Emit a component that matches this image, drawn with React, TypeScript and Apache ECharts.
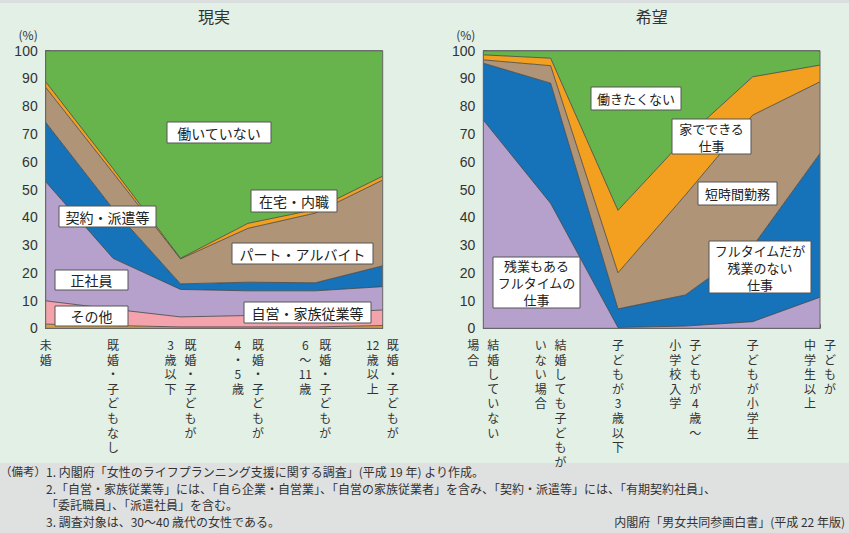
import React, { useEffect, useRef } from 'react';
import * as echarts from 'echarts';

// ---- 現実 (reality) ----
const realCategories = ['未婚', '既婚・子どもなし', '既婚・子どもが3歳以下', '既婚・子どもが4・5歳', '既婚・子どもが6〜11歳', '既婚・子どもが12歳以上'];
const realLabelColumns = [['未婚'], ['既婚・子どもなし'], ['既婚・子どもが', '3歳以下'], ['既婚・子どもが', '4・5歳'], ['既婚・子どもが', '6〜11歳'], ['既婚・子どもが', '12歳以上']];
const realOther = [1.5, 1.0, 0.5, 0.5, 0.5, 1.0];
const realSelfEmployed = [8.4, 5.9, 3.6, 4.1, 4.9, 5.6];
const realRegular = [42.9, 18.3, 9.9, 8.9, 8.1, 8.4];
const realContract = [21.4, 17.8, 2.0, 3.1, 2.9, 7.5];
const realPartTime = [12.6, 13.0, 9.0, 19.4, 25.1, 30.9];
const realHomeWork = [2.0, 1.5, 0.2, 1.8, 1.3, 1.4];
const realNotWorking = [11.2, 42.5, 74.8, 62.2, 57.2, 45.2];

// ---- 希望 (hope) ----
const hopeCategories = ['結婚していない場合', '結婚しても子どもがいない場合', '子どもが3歳以下', '子どもが4歳〜小学校入学', '子どもが小学生', '子どもが中学生以上'];
const hopeLabelColumns = [['結婚していない', '場合'], ['結婚しても子どもが', 'いない場合'], ['子どもが3歳以下'], ['子どもが4歳〜', '小学校入学'], ['子どもが小学生'], ['子どもが', '中学生以上']];
const hopeFullOvertime = [75.0, 45.0, 0.3, 0.8, 2.4, 11.2];
const hopeFullNoOvertime = [20.5, 43.3, 6.7, 11.2, 27.1, 51.8];
const hopeShortHours = [1.2, 6.3, 13.0, 36.0, 47.3, 25.8];
const hopeHomeWork = [1.8, 2.7, 22.5, 20.5, 13.8, 6.0];
const hopeNotWorking = [1.5, 2.7, 57.5, 31.5, 9.4, 5.2];

const yTicks = { min: 0, max: 100, interval: 10 };

const FONT = '"Noto Sans CJK JP", "Noto Sans", sans-serif';
const C = {
  green: '#68b44c',
  orange: '#f3a020',
  tan: '#af9478',
  blue: '#1673b9',
  lavender: '#b6a1cd',
  pink: '#f4a3ac',
  other: '#d9a040',
};

const cells = (s: string) => s.match(/\d+|./gu) || [];
function verticalLabel(cols: string[]) {
  const right = cells(cols[0]);
  const left = cols[1] ? cells(cols[1]) : null;
  const n = Math.max(right.length, left ? left.length : 0);
  const lines: string[] = [];
  for (let i = 0; i < n; i++) {
    if (left) lines.push(`{c|${left[i] ?? '　'}}{g| }{c|${right[i] ?? '　'}}`);
    else lines.push(`{c|${right[i] ?? '　'}}`);
  }
  return lines.join('\n');
}

function box(x: number, y: number, w: number, h: number, text: string, fs: number, lh: number) {
  return {
    type: 'group',
    z: 100,
    children: [
      { type: 'rect', z: 100, shape: { x, y, width: w, height: h }, style: { fill: '#ffffff', stroke: '#555', lineWidth: 1 } },
      {
        type: 'text', z: 101, x: x + w / 2, y: y + h / 2,
        style: { text, fill: '#222', font: `${fs}px ${FONT}`, align: 'center', verticalAlign: 'middle', textAlign: 'center', textVerticalAlign: 'middle', lineHeight: lh },
      },
    ],
  };
}

function txt(x: number, y: number, text: string, fs: number, align = 'left') {
  return {
    type: 'text', z: 100, x, y,
    style: { text, fill: '#333', font: `${fs}px ${FONT}`, align, verticalAlign: 'middle', textAlign: align, textVerticalAlign: 'middle' },
  };
}

export default function App() {
  const ref = useRef<HTMLDivElement>(null);
  useEffect(() => {
    if (!ref.current) return;
    const chart = echarts.init(ref.current, undefined, { renderer: 'svg' });
    const areaLine = { color: '#444', width: 0.8 };
    const mk = (name: string, data: number[], color: string, idx: number, stack: string) => ({
      name, type: 'line', xAxisIndex: idx, yAxisIndex: idx, stack, data,
      symbol: 'none', smooth: false, lineStyle: areaLine, areaStyle: { color, opacity: 1 }, z: 2,
    });
    const xAxis = (idx: number, cats: string[], cols: string[][]) => ({
      type: 'category', gridIndex: idx, data: cats, boundaryGap: false,
      axisLine: { show: true, lineStyle: { color: '#666', width: 1 } },
      axisTick: { show: true, inside: true, length: 4, lineStyle: { color: '#555' } },
      axisLabel: {
        interval: 0, margin: 9, color: '#333', fontFamily: FONT, verticalAlign: 'top',
        formatter: (_v: string, i: number) => verticalLabel(cols[i]),
        rich: {
          c: { width: 14, align: 'center', fontSize: 12, lineHeight: 14.6, fontFamily: FONT, color: '#333' },
          g: { width: 6, fontSize: 12, lineHeight: 14.6 },
        },
      },
      splitLine: { show: false },
    });
    const yAxis = (idx: number) => ({
      type: 'value', gridIndex: idx, ...yTicks,
      name: '(%)', nameLocation: 'end', nameGap: 10,
      nameTextStyle: { fontSize: 12, color: '#333', fontFamily: FONT, align: 'right', padding: [0, 8, 0, 0] },
      axisLine: { show: true, lineStyle: { color: '#666', width: 1 } },
      axisTick: { show: true, inside: true, length: 4, lineStyle: { color: '#555' } },
      axisLabel: { fontSize: 14, color: '#333', margin: 8, fontFamily: 'Liberation Sans, Arial, sans-serif' },
      splitLine: { show: false },
    });
    chart.setOption({
      animation: false,
      backgroundColor: '#e2f0e6',
      grid: [
        { left: 45.7, top: 50.7, width: 337, height: 277.6, show: true, borderColor: '#666', borderWidth: 1, backgroundColor: 'rgba(0,0,0,0)', z: 5 },
        { left: 483.3, top: 50.7, width: 336.7, height: 277.6, show: true, borderColor: '#666', borderWidth: 1, backgroundColor: 'rgba(0,0,0,0)', z: 5 },
      ],
      xAxis: [xAxis(0, realCategories, realLabelColumns), xAxis(1, hopeCategories, hopeLabelColumns)],
      yAxis: [yAxis(0), yAxis(1)],
      series: [
        mk('その他', realOther, C.other, 0, 'real'),
        mk('自営・家族従業等', realSelfEmployed, C.pink, 0, 'real'),
        mk('正社員', realRegular, C.lavender, 0, 'real'),
        mk('契約・派遣等', realContract, C.blue, 0, 'real'),
        mk('パート・アルバイト', realPartTime, C.tan, 0, 'real'),
        mk('在宅・内職', realHomeWork, C.orange, 0, 'real'),
        mk('働いていない', realNotWorking, C.green, 0, 'real'),
        mk('残業もあるフルタイムの仕事', hopeFullOvertime, C.lavender, 1, 'hope'),
        mk('フルタイムだが残業のない仕事', hopeFullNoOvertime, C.blue, 1, 'hope'),
        mk('短時間勤務', hopeShortHours, C.tan, 1, 'hope'),
        mk('家でできる仕事', hopeHomeWork, C.orange, 1, 'hope'),
        mk('働きたくない', hopeNotWorking, C.green, 1, 'hope'),
      ],
      graphic: [
        { type: 'rect', z: 0, shape: { x: 0, y: 0, width: 849, height: 3 }, style: { fill: '#dcdfdf' } },
        { type: 'rect', z: 0, shape: { x: 0, y: 463, width: 849, height: 70 }, style: { fill: '#dfe0e0' } },
        txt(214, 16, '現実', 16, 'center'),
        txt(651.7, 16, '希望', 16, 'center'),
        box(167, 122, 104, 21, '働いていない', 14, 16),
        box(251, 190, 86, 22, '在宅・内職', 14, 16),
        box(59, 206, 97, 21, '契約・派遣等', 14, 16),
        box(232, 243, 141, 21, 'パート・アルバイト', 14, 16),
        box(55, 270, 73, 20, '正社員', 14, 16),
        box(55, 306, 73, 20, 'その他', 14, 16),
        box(244, 302, 127, 21, '自営・家族従業等', 14, 16),
        box(591, 87, 90, 23, '働きたくない', 13, 16),
        box(672, 119, 79, 35, '家でできる\n仕事', 13, 17),
        box(698, 182, 79, 23, '短時間勤務', 13, 16),
        box(709, 241, 102, 52, 'フルタイムだが\n残業のない\n仕事', 13, 17),
        box(493, 257, 87, 51, '残業もある\nフルタイムの\n仕事', 13, 17),
        txt(0, 471, '（備考）', 11.5),
        txt(46, 471, '1. 内閣府「女性のライフプランニング支援に関する調査」(平成 19 年) より作成。', 12),
        txt(46, 488, '2.「自営・家族従業等」には、「自ら企業・自営業」、「自営の家族従業者」を含み、「契約・派遣等」には、「有期契約社員」、', 12),
        txt(46, 504, '「委託職員」、「派遣社員」を含む。', 12),
        txt(46, 521, '3. 調査対象は、30～40 歳代の女性である。', 12),
        txt(845, 521, '内閣府「男女共同参画白書」(平成 22 年版)', 12, 'right'),
      ],
    });
    return () => chart.dispose();
  }, []);
  return <div ref={ref} style={{ position: 'absolute', left: 0, top: 0, width: 849, height: 533 }} />;
}
